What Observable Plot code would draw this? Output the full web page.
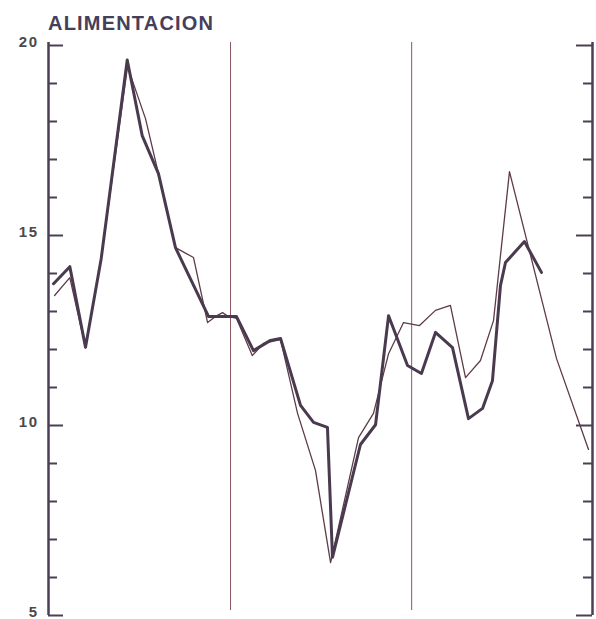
<!DOCTYPE html>
<html>
<head>
<meta charset="utf-8">
<script src="https://cdn.jsdelivr.net/npm/d3@7"></script>
<script src="https://cdn.jsdelivr.net/npm/@observablehq/plot@0.6"></script>
<style>
  html, body { margin: 0; padding: 0; background: #ffffff; }
  #wrap { position: relative; width: 596px; height: 619px; }
  #title { position: absolute; left: 48px; top: 13px; font-family: "Liberation Sans", Arial, sans-serif;
           font-weight: bold; font-size: 20px; line-height: 20px; letter-spacing: 1.2px; color: #44405a; }
  #chart { position: absolute; left: 0; top: 0; }
</style>
</head>
<body>
<div id="wrap">
  <div id="chart"></div>
  <div id="title">ALIMENTACION</div>
</div>
<script>
const thickT = [0, 1.1, 2.16, 3.22, 4.98, 5.99, 7.09, 8.24, 10.47, 11.42, 12.36, 13.51, 14.66, 15.34, 16.69, 17.57, 18.51, 18.85, 20.74, 21.76, 22.64, 23.92, 24.86, 25.81, 26.96, 28.04, 28.99, 29.66, 30.2, 30.54, 31.82, 32.97];
const thickV = [13.73, 14.18, 12.06, 14.39, 19.62, 17.63, 16.63, 14.68, 12.87, 12.87, 12.87, 11.97, 12.24, 12.29, 10.53, 10.08, 9.95, 6.53, 9.5, 10.02, 12.89, 11.58, 11.37, 12.45, 12.05, 10.18, 10.45, 11.18, 13.68, 14.29, 14.84, 14.03];

const thinT = [0.07, 1.1, 2.16, 3.22, 5.0, 6.22, 7.09, 8.24, 9.46, 10.41, 10.95, 11.42, 11.82, 12.36, 13.43, 14.19, 15.34, 16.49, 17.7, 18.72, 20.61, 21.62, 22.64, 23.65, 24.73, 25.81, 26.82, 27.84, 28.85, 29.73, 30.81, 33.99, 36.15];
const thinV = [13.42, 13.89, 12.05, 14.39, 19.45, 18.07, 16.63, 14.68, 14.42, 12.71, 12.87, 12.97, 12.87, 12.82, 11.84, 12.16, 12.26, 10.32, 8.82, 6.39, 9.68, 10.32, 11.89, 12.71, 12.63, 13.03, 13.16, 11.26, 11.71, 12.76, 16.68, 11.76, 9.37];

const yearBreaks = [11.96, 24.2];
const xDomain = [-0.34, 36.42];
const yDomain = [5, 20];
const yLabels = [5, 10, 15, 20];
const yMajor = [5, 10, 15, 20];
const yMinor = [6, 7, 8, 9, 11, 12, 13, 14, 16, 17, 18, 19];

const thick = thickT.map((t, i) => ({t, v: thickV[i]}));
const thin = thinT.map((t, i) => ({t, v: thinV[i]}));

const W = 596, H = 619, ML = 48, MR = 4, MT = 45, MB = 4;
const plotW = W - ML - MR;
const axisColor = "#4a3f55";

const chart = Plot.plot({
  width: W,
  height: H,
  marginLeft: ML,
  marginRight: MR,
  marginTop: MT,
  marginBottom: MB,
  style: {background: "transparent", fontFamily: "Liberation Sans, Arial, sans-serif"},
  x: {domain: xDomain, axis: null},
  y: {domain: yDomain},
  marks: [
    // year separators
    Plot.ruleX(yearBreaks, {stroke: "#8a5560", strokeWidth: 1, insetTop: -3, insetBottom: 5}),
    // axis lines
    Plot.ruleX([xDomain[0], xDomain[1]], {stroke: axisColor, strokeWidth: 2.5, insetTop: -3}),
    // left ticks (inward)
    Plot.ruleY(yMajor, {stroke: axisColor, strokeWidth: 2, insetRight: plotW - 15}),
    Plot.ruleY(yMinor, {stroke: axisColor, strokeWidth: 2, insetRight: plotW - 9}),
    // right ticks (inward)
    Plot.ruleY(yMajor, {stroke: axisColor, strokeWidth: 2, insetLeft: plotW - 16}),
    Plot.ruleY(yMinor, {stroke: axisColor, strokeWidth: 2, insetLeft: plotW - 9}),
    // labels
    Plot.axisY(yLabels, {anchor: "left", tickSize: 0, tickPadding: 10, fontSize: 15, fontWeight: "bold", fill: "#4a4a4a", dy: -3, label: null}),
    // series
    Plot.line(thin, {x: "t", y: "v", stroke: "#5f3b47", strokeWidth: 1.3}),
    Plot.line(thick, {x: "t", y: "v", stroke: "#4a3a4f", strokeWidth: 3, strokeLinejoin: "round"})
  ]
});
chart.querySelectorAll("g[aria-label='y-axis tick label']").forEach(g => {
  g.setAttribute("font-size", "15");
  g.style.fontSize = "15px";
  g.querySelectorAll("text").forEach(t => { t.setAttribute("letter-spacing", "1.5"); t.style.fontSize = "15px"; });
});
document.getElementById("chart").appendChild(chart);
</script>
</body>
</html>
